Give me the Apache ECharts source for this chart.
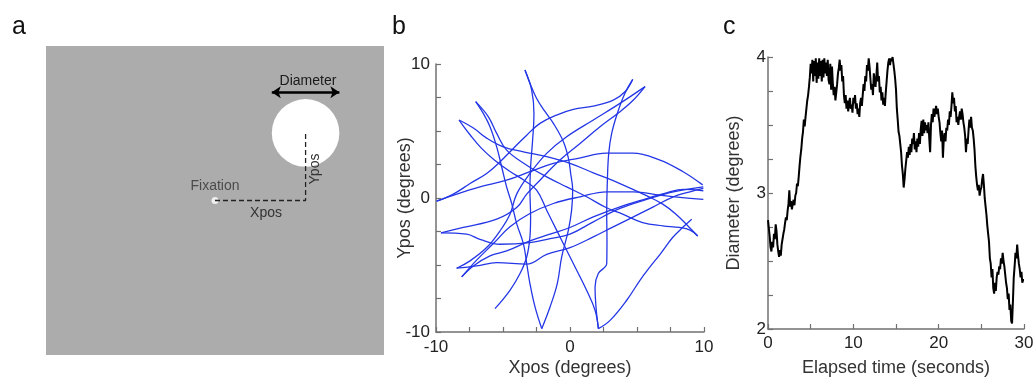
<!DOCTYPE html>
<html lang="en">

<head>
    <meta charset="UTF-8">
    <title>Stimulus position and diameter</title>
    <script src="https://cdn.jsdelivr.net/npm/echarts@6/dist/echarts.min.js"></script>
    <style>
        html, body { margin: 0; padding: 0; background: #fff; }
        #chart { width: 1034px; height: 378px; }
    </style>
</head>

<body>
    <div id="chart"></div>

    <script>
        // panel a: stimulus schematic (degrees from fixation)
        let stimX = 6.7;
        let stimY = 5;
        let stimDiameter = 5;

        // panel b: disc trajectories, [Xpos, Ypos] in degrees
        let trackMD = [[4.68, 8.85], [4.10, 7.93], [3.23, 7.31], [1.74, 6.86], [0.25, 6.61], [-1.00, 6.19], [-2.24, 5.57], [-3.23, 4.69], [-4.23, 3.70], [-5.22, 2.70], [-6.22, 1.83], [-7.46, 1.08], [-8.71, 0.29], [-9.95, -0.24]];
        let trackMJ = [[4.68, 8.85], [4.10, 7.81], [3.53, 6.31], [3.11, 4.82], [2.89, 3.33], [2.79, 1.33], [2.74, -1.16], [2.76, -3.15], [2.74, -4.89], [2.11, -5.64], [1.87, -6.64], [1.94, -8.13], [2.12, -9.75]];
        let trackJK = [[2.12, -9.75], [2.99, -9.13], [4.23, -7.63], [5.22, -6.14], [5.97, -5.14], [6.72, -4.20], [7.66, -2.95], [8.46, -2.15], [9.08, -1.58]];
        let trackNF = [[5.60, 8.31], [3.73, 7.06], [1.74, 5.82], [-0.25, 4.57], [-1.74, 3.33], [-2.99, 1.83], [-3.98, 0.29], [-4.48, -1.21], [-5.22, -2.45], [-6.22, -3.70], [-7.46, -4.69], [-8.46, -5.24]];
        let trackAH = [[-3.36, 9.55], [-2.86, 8.06], [-2.69, 6.31], [-2.79, 4.32], [-2.94, 2.33], [-2.99, 0.59], [-2.94, -1.41], [-2.99, -2.90], [-3.23, -4.40], [-3.73, -5.64], [-4.48, -6.89], [-5.60, -8.26]];
        let trackAI = [[-3.36, 9.55], [-2.99, 8.56], [-2.49, 7.43], [-1.87, 6.46], [-1.24, 5.57], [-0.50, 4.22], [-0.12, 2.98], [0.05, 1.83], [0.20, 0.59], [0.12, -0.91], [-0.12, -2.40], [-0.62, -4.40], [-0.95, -6.39], [-1.49, -8.13], [-2.11, -9.75]];
        let trackBI = [[-7.04, 7.19], [-6.47, 6.31], [-5.97, 5.32], [-5.47, 3.82], [-5.10, 2.33], [-4.73, 0.83], [-4.35, -0.41], [-3.98, -1.91], [-3.48, -3.40], [-3.23, -4.89], [-2.99, -6.39], [-2.61, -8.13], [-2.11, -9.75]];
        let trackCJ = [[-8.28, 5.82], [-7.46, 4.72], [-6.60, 3.70], [-5.60, 2.80], [-4.50, 2.00], [-3.40, 1.30], [-2.49, 0.59], [-1.74, -0.91], [-1.00, -2.40], [-0.25, -3.90], [0.50, -5.39], [1.24, -6.89], [1.87, -8.38], [2.12, -9.75]];
        let trackBL = [[-7.04, 7.19], [-6.09, 6.06], [-5.47, 4.82], [-4.73, 3.57], [-3.23, 2.45], [-1.74, 1.58], [-0.25, 0.83], [1.24, 0.09], [2.69, -0.71], [3.93, -1.21], [5.42, -1.83], [6.92, -2.08], [8.16, -2.20], [8.96, -2.40], [9.53, -2.83]];
        let trackCL = [[-8.28, 5.82], [-7.21, 5.22], [-6.22, 4.47], [-4.98, 3.82], [-3.48, 3.45], [-1.74, 3.08], [0, 2.58], [1.74, 1.88], [3.73, 1.08], [5.67, 0.19], [6.92, -0.46], [7.91, -1.21], [8.91, -2.20], [9.53, -2.83]];
        let trackDR = [[-9.95, -0.24], [-8.46, 0.29], [-6.72, 0.83], [-4.73, 1.33], [-2.99, 1.96], [-1.24, 2.58], [0.70, 2.98], [2.69, 3.35], [4.68, 3.35], [6.67, 2.85], [8.41, 1.98], [9.90, 0.98]];
        let trackEN = [[-9.63, -2.60], [-7.96, -2.20], [-5.47, -1.58], [-3.98, -0.71], [-3.23, 0.29], [-2.24, 1.33], [-0.75, 2.83], [0.75, 4.07], [2.24, 5.32], [3.73, 6.44], [4.73, 7.31], [5.60, 8.31]];
        let trackER = [[-9.63, -2.60], [-7.71, -2.70], [-6.72, -3.08], [-5.22, -3.45], [-2.99, -3.33], [-1.49, -3.03], [0, -2.70], [1.74, -1.78], [3.73, -0.78], [5.72, -0.11], [7.71, 0.46], [9.95, 0.83]];
        let trackFR = [[-8.46, -5.24], [-6.97, -5.07], [-5.47, -4.82], [-3.23, -4.94], [-1.74, -4.20], [0, -3.70], [1.74, -2.90], [3.23, -2.15], [4.73, -1.41], [6.22, -0.66], [7.71, 0.09], [8.96, 0.46], [9.95, 0.71]];
        let trackGR = [[-8.08, -5.89], [-7.21, -5.07], [-5.97, -4.32], [-4.73, -3.95], [-2.99, -3.20], [-1.49, -2.70], [0, -2.20], [1.74, -1.41], [3.73, -0.66], [5.72, -0.04], [7.21, 0.39], [8.46, 0.64], [9.95, 0.54]];
        let trackGE = [[-8.08, -5.89], [-6.97, -4.64], [-5.72, -3.40], [-4.48, -2.15], [-2.99, -1.16], [-1.24, -0.41], [0.75, 0.09], [2.74, 0.46], [4.73, 0.46], [6.72, 0.21], [8.21, 0.04], [9.95, -0.11]];
        let tracks = [trackMD, trackMJ, trackJK, trackNF, trackAH, trackAI, trackBI, trackCJ, trackBL, trackCL, trackDR, trackEN, trackER, trackFR, trackGR, trackGE];

        // panel c: disc diameter (degrees), one sample every 0.1 s from 0 to 30 s
        let sampleStep = 0.1;
        let diameter = [
            2.80, 2.74, 2.68, 2.60, 2.57, 2.64, 2.60, 2.70, 2.66, 2.77,
            2.72, 2.62, 2.57, 2.53, 2.58, 2.54, 2.62, 2.66, 2.70, 2.73,
            2.78, 2.82, 2.80, 2.87, 2.92, 3.02, 2.90, 2.94, 2.88, 2.92,
            2.95, 2.91, 2.98, 3.00, 3.07, 3.05, 3.12, 3.20, 3.27, 3.32,
            3.40, 3.45, 3.54, 3.49, 3.56, 3.62, 3.68, 3.72, 3.78, 3.85,
            3.95, 3.88, 3.98, 3.82, 3.97, 3.86, 3.99, 3.81, 3.96, 3.84,
            3.99, 3.86, 3.97, 3.82, 3.98, 3.85, 3.99, 3.88, 3.96, 3.86,
            3.98, 3.83, 3.80, 3.95, 3.76, 3.93, 3.80, 3.72, 3.78, 3.68,
            3.74, 3.80, 3.88, 3.92, 3.98, 3.90, 3.94, 3.82, 3.86, 3.72,
            3.66, 3.72, 3.62, 3.68, 3.60, 3.66, 3.70, 3.62, 3.65, 3.59,
            3.70, 3.66, 3.72, 3.62, 3.66, 3.58, 3.62, 3.56, 3.66, 3.70,
            3.64, 3.72, 3.80, 3.75, 3.86, 3.82, 3.94, 3.90, 3.99, 3.93,
            3.84, 3.76, 3.80, 3.72, 3.88, 3.83, 3.78, 3.86, 3.96, 3.82,
            3.86, 3.74, 3.78, 3.68, 3.74, 3.65, 3.70, 3.64, 3.74, 3.82,
            3.90, 3.96, 3.99, 3.94, 3.99, 3.97, 4.00, 3.95, 3.90, 3.84,
            3.76, 3.62, 3.54, 3.45, 3.42, 3.36, 3.30, 3.20, 3.14, 3.04,
            3.10, 3.18, 3.24, 3.30, 3.26, 3.34, 3.28, 3.36, 3.30, 3.40,
            3.36, 3.44, 3.32, 3.38, 3.30, 3.40, 3.34, 3.44, 3.36, 3.47,
            3.53, 3.42, 3.54, 3.44, 3.52, 3.46, 3.50, 3.44, 3.52, 3.40,
            3.30, 3.50, 3.58, 3.52, 3.62, 3.56, 3.60, 3.64, 3.58, 3.62,
            3.56, 3.52, 3.44, 3.38, 3.46, 3.26, 3.40, 3.44, 3.38, 3.48,
            3.46, 3.54, 3.50, 3.60, 3.56, 3.64, 3.74, 3.66, 3.70, 3.60,
            3.64, 3.52, 3.56, 3.50, 3.56, 3.60, 3.54, 3.62, 3.58, 3.52,
            3.48, 3.42, 3.30, 3.40, 3.36, 3.46, 3.54, 3.48, 3.56, 3.48,
            3.46, 3.40, 3.32, 3.20, 3.12, 3.06, 3.02, 3.06, 2.98, 3.02,
            3.04, 3.10, 3.14, 3.06, 2.96, 2.90, 2.84, 2.76, 2.70, 2.64,
            2.52, 2.48, 2.38, 2.44, 2.30, 2.26, 2.34, 2.28, 2.38, 2.42,
            2.40, 2.46, 2.44, 2.52, 2.48, 2.56, 2.50, 2.46, 2.40, 2.34,
            2.30, 2.22, 2.26, 2.14, 2.18, 2.06, 2.04, 2.20, 2.38, 2.46,
            2.56, 2.52, 2.62, 2.54, 2.48, 2.44, 2.38, 2.42, 2.34, 2.36,
            2.36
        ];

        let font = "'Liberation Sans', Arial, sans-serif";
        let axisGray = '#707070';

        // shared look of the b and c axes
        function sciAxis(extra) {
            let base = {
                type: 'value',
                axisLine: { show: true, onZero: false, lineStyle: { color: axisGray, width: 1.5 } },
                axisTick: { show: true, inside: true, length: 5, lineStyle: { color: axisGray, width: 1.2 } },
                minorTick: { show: true, length: 5, lineStyle: { color: axisGray, width: 1.2 } },
                splitLine: { show: false },
                minorSplitLine: { show: false },
                axisLabel: { color: '#222', fontSize: 17, fontFamily: font, margin: 6 },
                nameLocation: 'middle',
                nameMoveOverlap: false,
                nameTextStyle: { color: '#333', fontSize: 18, fontFamily: font }
            };
            return Object.assign(base, extra, {
                minorTick: Object.assign({}, base.minorTick, extra.minorTick || {}),
                axisLabel: Object.assign({}, base.axisLabel, extra.axisLabel || {})
            });
        }

        let chart = echarts.init(document.getElementById('chart'));

        let trackSeries = tracks.map(function (t) {
            return {
                type: 'line',
                xAxisIndex: 1,
                yAxisIndex: 1,
                data: t,
                smooth: 0.4,
                showSymbol: false,
                silent: true,
                lineStyle: { color: '#2437e6', width: 1.3 }
            };
        });

        let arrowY = stimY + stimDiameter / 2 + 0.5;
        let textStyle = function (text, size, fill, align) {
            return { text: text, font: size + 'px ' + font, fill: fill, textAlign: align, textVerticalAlign: 'middle', align: align, verticalAlign: 'middle' };
        };

        let option = {
            animation: false,
            backgroundColor: '#fff',
            grid: [
                { left: 46, top: 46, width: 338, height: 309, show: true, backgroundColor: '#acacac', borderWidth: 0, outerBoundsMode: 'none' },
                { left: 436, top: 64, width: 268, height: 268, outerBoundsMode: 'none' },
                { left: 768, top: 57, width: 256, height: 272, outerBoundsMode: 'none' }
            ],
            xAxis: [
                { gridIndex: 0, type: 'value', min: -12.5, max: 12.5, show: false },
                sciAxis({ gridIndex: 1, min: -10, max: 10, interval: 10, minorTick: { splitNumber: 4 }, name: 'Xpos (degrees)', nameGap: 27, axisLabel: { margin: 7 } }),
                sciAxis({ gridIndex: 2, min: 0, max: 30, interval: 10, minorTick: { splitNumber: 2 }, name: 'Elapsed time (seconds)', nameGap: 30, axisLabel: { margin: 6 } })
            ],
            yAxis: [
                { gridIndex: 0, type: 'value', min: -11.43, max: 11.43, show: false },
                sciAxis({ gridIndex: 1, min: -10, max: 10, interval: 10, minorTick: { splitNumber: 4 }, name: 'Ypos (degrees)', nameGap: 22, axisLabel: { margin: 6 } }),
                sciAxis({ gridIndex: 2, min: 2, max: 4, interval: 1, minorTick: { splitNumber: 4 }, name: 'Diameter (degrees)', nameGap: 25, axisLabel: { margin: 2 } })
            ],
            series: [
                {
                    // the disc
                    type: 'custom',
                    xAxisIndex: 0,
                    yAxisIndex: 0,
                    silent: true,
                    data: [[stimX, stimY, stimDiameter]],
                    renderItem: function (params, api) {
                        let c = api.coord([api.value(0), api.value(1)]);
                        let r = api.size([api.value(2), 0])[0] / 2;
                        return { type: 'circle', shape: { cx: c[0], cy: c[1], r: r }, style: { fill: '#fff' } };
                    }
                },
                {
                    // Xpos / Ypos dashed guide, plus the diameter arrow
                    type: 'line',
                    xAxisIndex: 0,
                    yAxisIndex: 0,
                    silent: true,
                    showSymbol: false,
                    data: [[0, 0], [stimX, 0], [stimX, stimY]],
                    lineStyle: { color: '#222', width: 1.3, type: [5, 3] },
                    markLine: {
                        silent: true,
                        symbol: ['arrow', 'arrow'],
                        symbolSize: 9,
                        label: { show: false },
                        lineStyle: { color: '#000', width: 2.5, type: 'solid' },
                        data: [[{ coord: [stimX - stimDiameter / 2, arrowY] }, { coord: [stimX + stimDiameter / 2, arrowY] }]]
                    }
                },
                {
                    // fixation point
                    type: 'scatter',
                    xAxisIndex: 0,
                    yAxisIndex: 0,
                    silent: true,
                    data: [[0, 0]],
                    symbolSize: 7,
                    itemStyle: { color: '#fff' },
                    label: { show: true, position: 'top', distance: 4, formatter: 'Fixation', color: '#333', fontSize: 14, fontFamily: font }
                }
            ].concat(trackSeries, [
                {
                    type: 'line',
                    xAxisIndex: 2,
                    yAxisIndex: 2,
                    data: diameter.map(function (v, i) { return [i * sampleStep, v]; }),
                    showSymbol: false,
                    silent: true,
                    lineStyle: { color: '#000', width: 2 }
                }
            ]),
            graphic: [
                { type: 'text', z: 100, x: 12, y: 27, style: textStyle('a', 25, '#111', 'left') },
                { type: 'text', z: 100, x: 392, y: 27, style: textStyle('b', 25, '#111', 'left') },
                { type: 'text', z: 100, x: 723, y: 27, style: textStyle('c', 25, '#111', 'left') },
                { type: 'text', z: 100, x: 308, y: 81, style: textStyle('Diameter', 14, '#1a1a1a', 'center') },
                { type: 'text', z: 100, x: 266, y: 213, style: textStyle('Xpos', 14, '#333', 'center') },
                { type: 'text', z: 100, x: 315, y: 169, rotation: Math.PI / 2, style: textStyle('Ypos', 14, '#333', 'center') }
            ]
        };
        chart.setOption(option);
    </script>
</body>

</html>
